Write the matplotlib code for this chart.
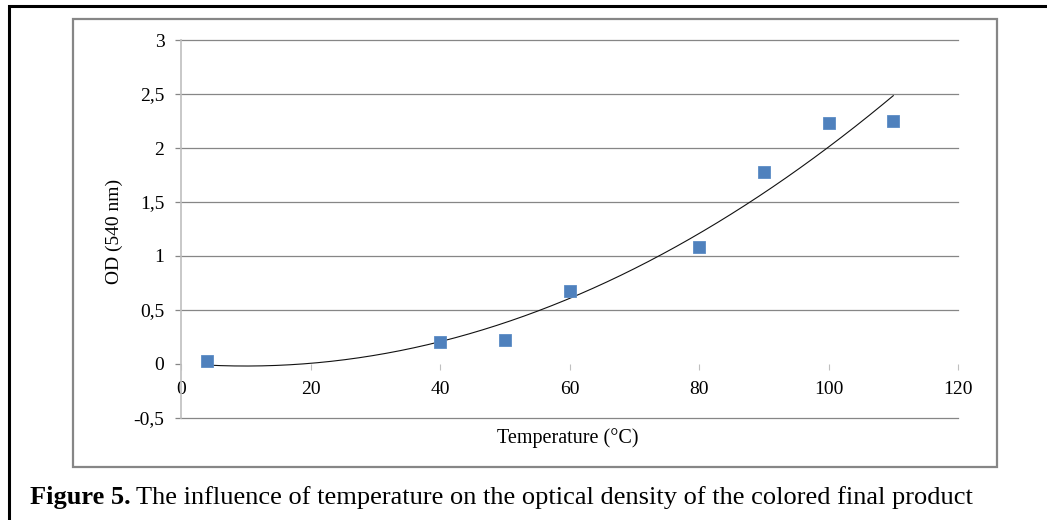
import numpy as np
import matplotlib
matplotlib.use("Agg")
import matplotlib.pyplot as plt
from matplotlib.patches import Rectangle
from matplotlib.ticker import FuncFormatter

plt.rcParams.update({
    "font.family": "serif",
    "font.serif": ["Liberation Serif", "DejaVu Serif"],
    "font.size": 13,
})

temperature = [4, 40, 50, 60, 80, 90, 100, 110]
od_540 = [0.03, 0.20, 0.22, 0.68, 1.08, 1.78, 2.23, 2.25]
x_ticks = [0, 20, 40, 60, 80, 100, 120]
y_ticks = [-0.5, 0, 0.5, 1, 1.5, 2, 2.5, 3]

GRID = "#868686"
AXIS = "#BFBFBF"
MARK = "#4F81BD"

W, H = 1047, 520
fig = plt.figure(figsize=(W / 100, H / 100), dpi=100)

# outer page frame (right/bottom edges fall off the image) and chart frame
fig.patches.append(Rectangle((9 / W, -0.1), 1.2, (H - 6) / H + 0.1,
                             transform=fig.transFigure, fill=False,
                             ec="black", lw=2.2))
fig.patches.append(Rectangle((73 / W, (H - 467) / H), (997 - 73) / W, (467 - 19) / H,
                             transform=fig.transFigure, fill=False,
                             ec=GRID, lw=1.6))

ax = fig.add_axes([181 / W, (H - 418) / H, (958 - 181) / W, (418 - 40) / H])
ax.set_xlim(0, 120)
ax.set_ylim(-0.5, 3)

for y in y_ticks:
    if y != 0:
        ax.axhline(y, color=GRID, lw=0.9, zorder=1, clip_on=False)

for s in ["top", "right"]:
    ax.spines[s].set_visible(False)
ax.spines["left"].set_color(AXIS)
ax.spines["left"].set_linewidth(1.2)
ax.spines["bottom"].set_position(("data", 0))
ax.spines["bottom"].set_visible(False)

ax.set_xticks(x_ticks)
ax.set_yticks(y_ticks)
fmt = FuncFormatter(lambda v, p: f"{v:g}".replace(".", ","))
ax.xaxis.set_major_formatter(fmt)
ax.yaxis.set_major_formatter(fmt)
ax.tick_params(axis="x", length=4, width=0.8, color=AXIS, pad=8, labelsize=14)
ax.tick_params(axis="y", length=4, width=0.9, color=GRID, pad=8, labelsize=14)

# polynomial (order 2) trendline, as in the source spreadsheet
coef = np.polyfit(temperature, od_540, 2)
xs = np.linspace(min(temperature), max(temperature), 200)
ax.plot(xs, np.polyval(coef, xs), color="#111111", lw=0.8, zorder=3)

ax.plot(temperature, od_540, ls="none", marker="s", ms=8.5,
        color=MARK, mec="#5B8CC6", mew=0.6, zorder=4, clip_on=False)

fig.text(568 / W, 1 - 438 / H, "Temperature (°C)", ha="center", va="center", fontsize=14.5)
fig.text(114 / W, 1 - 231 / H, "OD (540 nm)", ha="center", va="center",
         rotation=90, fontsize=14)

cap_y = 1 - 504 / H
t1 = fig.text(30 / W, cap_y, "Figure 5.", fontsize=19, fontweight="bold",
              va="baseline")
fig.canvas.draw()
bb = t1.get_window_extent()
fig.text((bb.x1 + 5) / W, cap_y,
         "The influence of temperature on the optical density of the colored final product",
         fontsize=19, va="baseline")

fig.savefig("out.png", dpi=100, facecolor="white")
